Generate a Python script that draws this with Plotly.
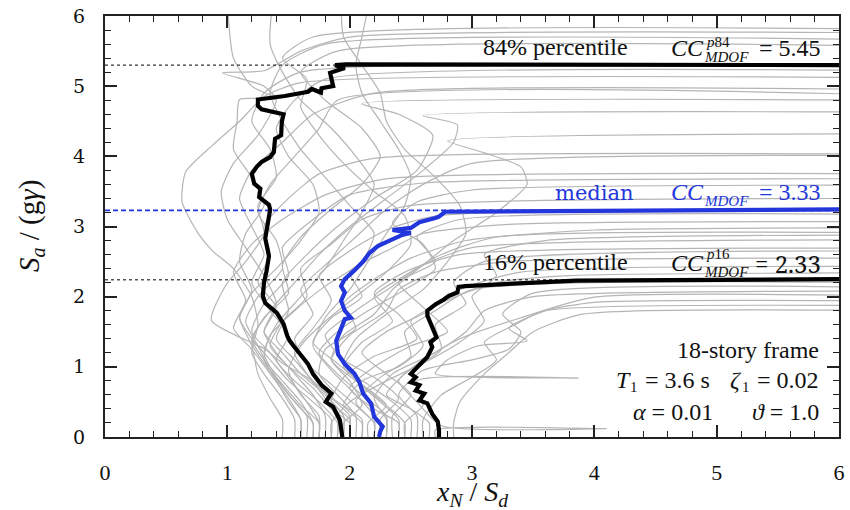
import plotly.graph_objects as go

# ---------------- data ----------------
# 84% percentile curve (left thick black)
p84_x = [1.94, 1.93, 1.92, 1.865, 1.805, 1.85, 1.77, 1.70, 1.66, 1.55, 1.51, 1.49, 1.46, 1.405, 1.31, 1.29,
         1.30, 1.32, 1.34, 1.31, 1.32, 1.34, 1.35, 1.34, 1.26, 1.27, 1.22, 1.20, 1.24, 1.28, 1.35, 1.38,
         1.39, 1.44, 1.445, 1.46, 1.28, 1.25, 1.25, 1.47, 1.66, 1.69, 1.765, 1.77, 1.865, 1.84, 1.96,
         1.88, 1.97, 6.0]
p84_y = [0.0, 0.12, 0.24, 0.43, 0.50, 0.62, 0.74, 0.90, 1.04, 1.28, 1.37, 1.44, 1.61, 1.77, 1.91, 2.01,
         2.20, 2.36, 2.58, 2.83, 2.93, 3.07, 3.24, 3.31, 3.42, 3.54, 3.61, 3.75, 3.85, 3.92, 3.99, 4.06,
         4.25, 4.30, 4.49, 4.60, 4.67, 4.72, 4.81, 4.86, 4.92, 4.96, 4.91, 4.97, 5.00, 5.19, 5.26,
         5.30, 5.31, 5.30]

# median curve (blue)
p50_x = [2.24, 2.25, 2.27, 2.20, 2.175, 2.11, 2.08, 2.04, 1.96, 1.905, 1.89, 1.93, 1.96, 2.01, 1.96, 1.93,
         1.96, 1.93, 1.96, 2.03, 2.11, 2.16, 2.23, 2.34, 2.43, 2.50, 2.35, 2.50, 2.54, 2.57, 2.70, 2.73,
         2.78, 3.85, 6.0]
p50_y = [0.0, 0.08, 0.15, 0.29, 0.48, 0.62, 0.78, 0.90, 1.04, 1.18, 1.37, 1.56, 1.68, 1.70, 1.80, 1.94,
         2.06, 2.15, 2.25, 2.36, 2.50, 2.62, 2.72, 2.81, 2.88, 2.91, 2.95, 2.98, 3.02, 3.06, 3.12, 3.14,
         3.21, 3.22, 3.245]

# 16% percentile curve (right thick black)
p16_x = [2.73, 2.73, 2.72, 2.675, 2.635, 2.57, 2.61, 2.54, 2.57, 2.50, 2.54, 2.50, 2.55, 2.635, 2.675,
         2.66, 2.71, 2.675, 2.635, 2.635, 2.70, 2.77, 2.81, 2.88, 2.89, 2.945, 3.85, 6.0]
p16_y = [0.0, 0.10, 0.22, 0.33, 0.48, 0.52, 0.62, 0.66, 0.74, 0.78, 0.85, 0.90, 0.99, 1.14, 1.28,
         1.35, 1.42, 1.56, 1.73, 1.80, 1.89, 1.96, 2.01, 2.06, 2.14, 2.15, 2.23, 2.25]

# collapse capacities shown with the dotted reference lines
cc_p84 = 5.30
cc_p50 = 3.23
cc_p16 = 2.24

# individual IDA curves (grey), one list per ground motion
gm_x = [
    [2.85, 2.85, 2.9, 3.1, 3.3, 3.5, 3.9, 6.5],
    [2.6, 2.6, 2.75, 3.0, 3.2, 3.1, 3.35, 3.6, 6.5],
    [2.45, 2.45, 2.6, 2.55, 3.87, 2.7, 2.8, 3.05, 3.45, 3.3, 3.6, 4.0, 6.5],
    [2.7, 2.7, 4.1, 2.75, 2.55, 2.4, 2.6, 2.9, 3.4, 3.99, 6.5],
    [2.3, 2.3, 2.2, 2.35, 2.7, 2.95, 3.1, 3.5, 6.5],
    [2.55, 2.55, 2.4, 2.6, 3.0, 3.3, 3.4, 3.25, 3.5, 6.5],
    [2.2, 2.2, 2.05, 2.25, 2.5, 2.45, 2.7, 3.0, 6.5],
    [2.1, 2.1, 1.95, 2.1, 2.4, 2.6, 2.5, 2.8, 3.2, 3.8, 6.5],
    [2.35, 2.35, 2.5, 2.3, 2.1, 2.3, 2.65, 2.9, 3.4, 6.5],
    [1.95, 1.95, 2.1, 2.0, 1.85, 2.0, 2.3, 2.4, 2.7, 3.3, 6.5],
    [2.65, 2.65, 2.5, 2.3, 2.45, 2.75, 2.7, 2.95, 2.85, 3.1, 6.5],
    [2.0, 2.0, 1.85, 1.95, 2.2, 2.55, 2.4, 2.2, 2.45, 2.9, 6.5],
    [2.25, 2.25, 2.4, 2.2, 1.95, 1.8, 2.05, 2.35, 2.6, 3.0, 6.5],
    [1.85, 1.85, 2.0, 2.3, 2.6, 2.9, 3.1, 3.0, 3.2, 3.1, 3.6, 6.5],
    [2.5, 2.5, 2.35, 2.15, 1.95, 2.1, 2.35, 2.2, 2.45, 2.75, 3.2, 6.5],
    [2.05, 2.05, 1.9, 1.75, 1.8, 2.05, 1.95, 2.2, 2.5, 2.95, 4.0, 6.5],
    [2.15, 2.15, 2.3, 2.1, 1.9, 1.7, 1.85, 2.1, 2.0, 2.3, 2.6, 3.3, 6.5],
    [2.4, 2.4, 2.2, 2.0, 2.2, 2.5, 2.8, 2.6, 2.4, 2.7, 2.55, 2.9, 6.5],
    [1.9, 1.9, 1.8, 1.65, 1.55, 1.7, 1.85, 1.75, 2.0, 2.3, 2.7, 6.5],
    [2.0, 2.0, 1.85, 1.7, 1.5, 1.35, 1.45, 1.65, 1.6, 1.85, 2.1, 2.5, 6.5],
    [2.3, 2.3, 2.1, 1.9, 1.75, 1.9, 2.15, 2.45, 2.7, 2.6, 2.35, 2.55, 3.0, 6.5],
    [1.75, 1.75, 1.65, 1.5, 1.35, 1.2, 1.3, 1.5, 1.45, 1.7, 2.0, 2.6, 6.5],
    [1.6, 1.6, 1.5, 1.35, 1.2, 1.05, 1.15, 1.05, 1.2, 1.45, 1.8, 2.3, 6.5],
    [2.2, 2.2, 2.05, 1.85, 1.65, 1.55, 1.7, 1.6, 1.8, 2.05, 2.3, 2.6, 3.0, 6.5],
    [1.8, 1.8, 1.7, 1.55, 1.4, 1.3, 1.4, 1.25, 1.35, 1.3, 1.5, 1.75, 2.2, 6.5],
    [2.4, 2.4, 2.25, 2.05, 1.85, 1.95, 2.2, 2.35, 2.6, 2.85, 3.2, 3.45, 3.4, 3.1, 2.8, 6.5],
    [1.7, 1.7, 1.6, 1.45, 1.3, 1.2, 1.35, 1.55, 1.75, 2.0, 2.3, 2.6, 2.85, 2.88, 2.6, 6.5],
    [2.1, 2.1, 1.9, 1.7, 1.55, 1.4, 1.5, 1.45, 1.65, 1.9, 2.2, 2.55, 2.68, 2.4, 2.1, 6.5],
    [1.65, 1.65, 1.5, 1.35, 1.25, 1.15, 1.25, 1.45, 1.4, 1.25, 1.35, 1.55, 1.75, 1.9, 6.5],
    [1.9, 1.9, 1.75, 1.55, 1.4, 1.5, 1.35, 1.2, 1.3, 1.2, 1.1, 1.2, 1.45, 1.7, 2.2, 6.5],
    [1.55, 1.55, 1.45, 1.3, 1.2, 1.25, 1.2, 1.05, 0.88, 0.77, 0.63, 0.66, 0.88, 1.1, 1.3, 1.6, 6.5],
    [1.85, 1.85, 1.7, 1.5, 1.35, 1.2, 1.1, 1.2, 1.4, 1.6, 1.75, 1.7, 1.5, 1.4, 1.55, 1.8, 6.5],
    [2.0, 2.0, 1.85, 1.65, 1.45, 1.31, 0.87, 0.99, 1.15, 1.3, 1.25, 1.4, 1.35, 1.2, 1.3, 1.6, 6.5],
    [1.75, 1.75, 1.6, 1.45, 1.3, 1.2, 1.3, 1.5, 1.45, 1.6, 1.85, 2.1, 2.25, 2.1, 1.8, 1.6, 1.9, 6.5],
    [1.6, 1.6, 1.5, 1.4, 1.3, 1.35, 1.55, 1.8, 2.1, 2.2, 2.0, 1.8, 1.6, 1.45, 1.35, 1.45, 1.8, 6.5],
    [1.95, 1.95, 1.8, 1.6, 1.45, 1.3, 1.4, 1.3, 1.15, 1.0, 0.95, 1.05, 1.25, 1.4, 1.3, 0.96, 1.3, 1.6,
     2.0, 6.5],
    [1.75, 1.75, 1.6, 1.5, 1.6, 1.8, 2.05, 2.3, 2.5, 2.45, 2.2, 1.95, 1.75, 1.6, 1.65, 1.45, 1.7, 6.5],
    [1.45, 1.45, 1.35, 1.25, 1.2, 1.1, 1.2, 1.1, 1.15, 1.3, 1.2, 1.05, 1.08, 1.1, 1.4, 1.2, 1.05, 1.0],
    [1.7, 1.7, 1.55, 1.4, 1.3, 1.4, 1.6, 1.8, 1.95, 2.1, 2.2, 2.05, 1.85, 1.6, 1.45, 1.35, 1.37],
    [2.45, 2.45, 2.3, 2.1, 1.95, 2.05, 2.3, 2.6, 2.8, 2.95, 2.9, 2.7, 2.45, 2.3, 2.25, 2.1, 1.95, 1.93],
    [2.2, 2.2, 2.05, 1.85, 1.7, 1.8, 2.0, 2.15, 2.3, 2.45, 2.5, 2.4, 2.25, 2.1, 2.05, 2.1, 2.16],
]
gm_y = [
    [0.0, 0.2, 0.5, 0.9, 1.2, 1.5, 1.75, 1.80],
    [0.0, 0.25, 0.6, 0.85, 1.1, 1.35, 1.6, 1.8, 1.87],
    [0.0, 0.2, 0.45, 0.8, 0.84, 0.9, 1.1, 1.3, 1.37, 1.55, 1.8, 1.92, 1.94],
    [0.0, 0.1, 0.12, 0.16, 0.5, 0.8, 1.1, 1.4, 1.7, 1.99, 2.01],
    [0.0, 0.25, 0.55, 0.9, 1.2, 1.5, 1.8, 2.0, 2.08],
    [0.0, 0.3, 0.6, 0.95, 1.1, 1.25, 1.5, 1.75, 2.05, 2.13],
    [0.0, 0.2, 0.5, 0.85, 1.15, 1.5, 1.8, 2.1, 2.20],
    [0.0, 0.2, 0.45, 0.8, 1.0, 1.3, 1.65, 1.95, 2.2, 2.3, 2.34],
    [0.0, 0.3, 0.6, 0.9, 1.2, 1.5, 1.8, 2.1, 2.35, 2.43],
    [0.0, 0.2, 0.45, 0.8, 1.1, 1.45, 1.8, 2.1, 2.35, 2.5, 2.55],
    [0.0, 0.2, 0.4, 0.6, 0.9, 1.25, 1.6, 1.9, 2.2, 2.5, 2.65],
    [0.0, 0.25, 0.5, 0.85, 1.15, 1.4, 1.75, 2.05, 2.35, 2.6, 2.69],
    [0.0, 0.25, 0.55, 0.85, 1.1, 1.45, 1.8, 2.15, 2.45, 2.7, 2.81],
    [0.0, 0.2, 0.5, 0.8, 1.05, 1.35, 1.65, 2.0, 2.3, 2.6, 2.8, 2.88],
    [0.0, 0.25, 0.5, 0.75, 1.0, 1.35, 1.65, 2.0, 2.3, 2.6, 2.85, 2.91],
    [0.0, 0.3, 0.6, 0.9, 1.25, 1.55, 1.9, 2.25, 2.55, 2.8, 2.95, 2.98],
    [0.0, 0.2, 0.45, 0.75, 1.05, 1.35, 1.7, 2.0, 2.35, 2.65, 2.9, 3.03, 3.07],
    [0.0, 0.2, 0.4, 0.7, 1.0, 1.3, 1.5, 1.85, 2.2, 2.5, 2.85, 3.1, 3.17],
    [0.0, 0.25, 0.55, 0.9, 1.2, 1.55, 1.95, 2.3, 2.65, 2.95, 3.15, 3.22],
    [0.0, 0.2, 0.4, 0.7, 1.0, 1.3, 1.65, 2.0, 2.4, 2.75, 3.1, 3.3, 3.40],
    [0.0, 0.3, 0.6, 0.9, 1.2, 1.5, 1.8, 2.1, 2.4, 2.75, 3.05, 3.35, 3.52, 3.59],
    [0.0, 0.2, 0.5, 0.85, 1.2, 1.5, 1.9, 2.3, 2.7, 3.1, 3.45, 3.62, 3.68],
    [0.0, 0.25, 0.55, 0.9, 1.25, 1.55, 1.95, 2.35, 2.75, 3.1, 3.45, 3.68, 3.75],
    [0.0, 0.2, 0.45, 0.75, 1.05, 1.4, 1.75, 2.1, 2.45, 2.85, 3.25, 3.6, 3.9, 4.01],
    [0.0, 0.3, 0.6, 0.9, 1.2, 1.5, 1.85, 2.2, 2.6, 3.0, 3.4, 3.75, 3.97, 4.03],
    [0.0, 0.25, 0.5, 0.8, 1.1, 1.45, 1.75, 2.1, 2.45, 2.8, 3.2, 3.6, 3.85, 4.05, 4.22, 4.32],
    [0.0, 0.2, 0.5, 0.8, 1.1, 1.4, 1.8, 2.2, 2.6, 3.0, 3.4, 3.8, 4.2, 4.45, 4.58, 4.63],
    [0.0, 0.25, 0.5, 0.8, 1.1, 1.4, 1.8, 2.2, 2.6, 3.0, 3.4, 3.8, 4.3, 4.6, 4.75, 4.80],
    [0.0, 0.3, 0.6, 0.95, 1.3, 1.65, 2.0, 2.4, 2.8, 3.2, 3.6, 4.0, 4.4, 4.8, 4.87],
    [0.0, 0.2, 0.5, 0.8, 1.1, 1.45, 1.8, 2.2, 2.6, 3.0, 3.4, 3.8, 4.2, 4.6, 4.9, 4.95],
    [0.0, 0.25, 0.55, 0.9, 1.2, 1.6, 2.0, 2.4, 2.65, 2.88, 3.35, 3.78, 4.16, 4.5, 4.85, 5.05, 5.12],
    [0.0, 0.25, 0.5, 0.8, 1.1, 1.4, 1.7, 2.05, 2.4, 2.8, 3.2, 3.6, 4.0, 4.4, 4.8, 5.1, 5.22],
    [0.0, 0.3, 0.55, 0.85, 1.05, 1.25, 1.66, 2.17, 2.5, 2.9, 3.3, 3.7, 4.1, 4.5, 4.9, 5.2, 5.28],
    [0.0, 0.2, 0.45, 0.75, 1.05, 1.35, 1.7, 2.05, 2.45, 2.85, 3.25, 3.6, 4.0, 4.4, 4.8, 5.2, 5.5, 5.57],
    [0.0, 0.25, 0.5, 0.8, 1.1, 1.45, 1.8, 2.15, 2.5, 2.9, 3.3, 3.7, 4.1, 4.5, 4.9, 5.3, 5.6, 5.66],
    [0.0, 0.3, 0.6, 0.9, 1.2, 1.5, 1.9, 2.3, 2.7, 3.1, 3.5, 3.9, 4.3, 4.8, 5.0, 5.19, 5.22, 5.5,
     5.7, 5.76],
    [0.0, 0.3, 0.6, 0.95, 1.3, 1.65, 2.0, 2.35, 2.75, 3.15, 3.5, 3.9, 4.3, 4.7, 5.1, 5.4, 5.7, 5.81],
    [0.0, 0.25, 0.55, 0.9, 1.3, 1.7, 2.1, 2.5, 2.9, 3.3, 3.7, 4.1, 4.5, 4.81, 4.82, 5.0, 5.4, 6.2],
    [0.0, 0.2, 0.5, 0.85, 1.2, 1.6, 2.0, 2.4, 2.8, 3.2, 3.6, 4.0, 4.4, 4.8, 5.2, 5.6, 6.2],
    [0.0, 0.2, 0.45, 0.75, 1.05, 1.4, 1.75, 2.1, 2.5, 2.9, 3.3, 3.7, 4.1, 4.5, 4.9, 5.3, 5.7, 6.2],
    [0.0, 0.3, 0.6, 0.95, 1.3, 1.7, 2.1, 2.5, 2.9, 3.3, 3.7, 4.1, 4.5, 4.9, 5.3, 5.7, 6.2],
]

x_ticks = [0, 1, 2, 3, 4, 5, 6]
y_ticks = [0, 1, 2, 3, 4, 5, 6]

# ---------------- figure ----------------
W, H = 850, 510
L, R, T, B = 105, 845, 13, 437
XMAX, YMAX = 6.0, 6.0
FONT = "Liberation Serif"
GREY = "#b5b5b5"
BLUE = "#2236dc"
INK = "#111111"

fig = go.Figure()

for xs, ys in zip(gm_x, gm_y):
    fig.add_trace(go.Scatter(x=xs, y=ys, mode="lines",
                             line=dict(color=GREY, width=1.2, shape="spline", smoothing=0.6),
                             hoverinfo="skip", showlegend=False))

fig.add_trace(go.Scatter(x=[0, XMAX], y=[cc_p84, cc_p84], mode="lines",
                         line=dict(color="black", width=1, dash="3px,3px"), showlegend=False))
fig.add_trace(go.Scatter(x=[0, XMAX], y=[cc_p16, cc_p16], mode="lines",
                         line=dict(color="black", width=1, dash="3px,3px"), showlegend=False))
fig.add_trace(go.Scatter(x=[0, XMAX], y=[cc_p50, cc_p50], mode="lines",
                         line=dict(color=BLUE, width=1.8, dash="5px,3px"), showlegend=False))

fig.add_trace(go.Scatter(x=p84_x, y=p84_y, mode="lines",
                         line=dict(color="black", width=4.2), showlegend=False))
fig.add_trace(go.Scatter(x=p16_x, y=p16_y, mode="lines",
                         line=dict(color="black", width=4.2), showlegend=False))
fig.add_trace(go.Scatter(x=p50_x, y=p50_y, mode="lines",
                         line=dict(color=BLUE, width=4.2), showlegend=False))

annotations = []


def ann(text, px, base_py, size, color=INK, anchor="left", family=FONT):
    annotations.append(dict(
        text=text, x=(px - L) / (R - L), y=(B - (base_py - 0.33 * size)) / (B - T),
        xref="paper", yref="paper",
        xanchor=anchor, yanchor="middle", showarrow=False,
        font=dict(family=family, size=size, color=color)))


BIG = 24
SMALL = 15
# 84% percentile  (Times New Roman alias)
ann("84% percentile", 484, 52, BIG, family="Times New Roman")
ann("<i>CC</i>", 674, 53, BIG)
ann("<i>p</i>84", 709, 44, SMALL)
ann("<i>MDOF</i>", 707, 59, SMALL)
ann("= 5.45", 829, 53, BIG, anchor="right", family="Tinos")
# median  (DejaVu Serif)
ann("median", 557, 198, 21, BLUE, family="DejaVu Serif")
ann("<i>CC</i>", 674, 198, BIG, BLUE)
ann("<i>MDOF</i>", 707, 204, SMALL, BLUE)
ann("= 3.33", 829, 198, BIG, BLUE, anchor="right", family="serif")
# 16% percentile  (span with inline style)
ann('<span style="font-family:Liberation Serif">16% percentile</span>', 484, 269, BIG)
ann("<i>CC</i>", 674, 270, BIG)
ann("<i>p</i>16", 709, 258, SMALL)
ann("<i>MDOF</i>", 707, 276, SMALL)
ann("= 2.33", 829, 270, BIG, anchor="right", family="Noto Serif")
# parameters box
ann("18-story frame", 827, 357, BIG, anchor="right", family="Liberation Serif, serif")
ann("<i>T</i>", 618, 388, BIG)
ann("1", 632, 392, SMALL)
ann("= 3.6 s", 717, 388, BIG, anchor="right")
ann("<i>ζ</i>", 733, 388, BIG)
ann("1", 745, 392, SMALL)
ann("= 0.02", 827, 388, BIG, anchor="right", family="Times")
ann("<i>α</i> = 0.01", 720, 420, BIG, anchor="right")
ann("<i>ϑ</i> = 1.0", 827, 420, BIG, anchor="right")
# axis titles
ann("<i>x</i><sub><i>N</i></sub> / <i>S</i><sub><i>d</i></sub>", 475, 503, 28, anchor="center")
annotations.append(dict(
    text="<i>S</i><sub><i>a</i></sub> / (g<i>γ</i>)", textangle=-90,
    x=(30 - L) / (R - L), y=(B - 225) / (B - T), xref="paper", yref="paper",
    xanchor="center", yanchor="middle", showarrow=False,
    font=dict(family=FONT, size=29, color=INK)))

axis_common = dict(
    range=[0, 6], showgrid=False, zeroline=False, showline=True, linecolor="#222", linewidth=2,
    mirror="allticks", ticks="inside", ticklen=12, tickwidth=1.5, tickcolor="#222",
    minor=dict(ticks="inside", ticklen=6, tickwidth=1.2, tickcolor="#222", dtick=0.2),
)

fig.update_layout(
    width=W, height=H,
    margin=dict(l=L, r=W - R, t=T, b=H - B),
    paper_bgcolor="white", plot_bgcolor="white",
    xaxis=dict(axis_common, tickvals=x_ticks, ticktext=[str(v) for v in x_ticks],
               tickfont=dict(family="Times New Roman", size=22, color=INK),
               ticklabelstandoff=15),
    yaxis=dict(axis_common, tickvals=y_ticks, ticktext=[str(v) for v in y_ticks],
               tickfont=dict(family="DejaVu Serif", size=19, color=INK),
               ticklabelstandoff=14),
    annotations=annotations,
)

fig.write_html("out.html", config={"displayModeBar": False},
               post_script="document.body.style.margin='0px';")
